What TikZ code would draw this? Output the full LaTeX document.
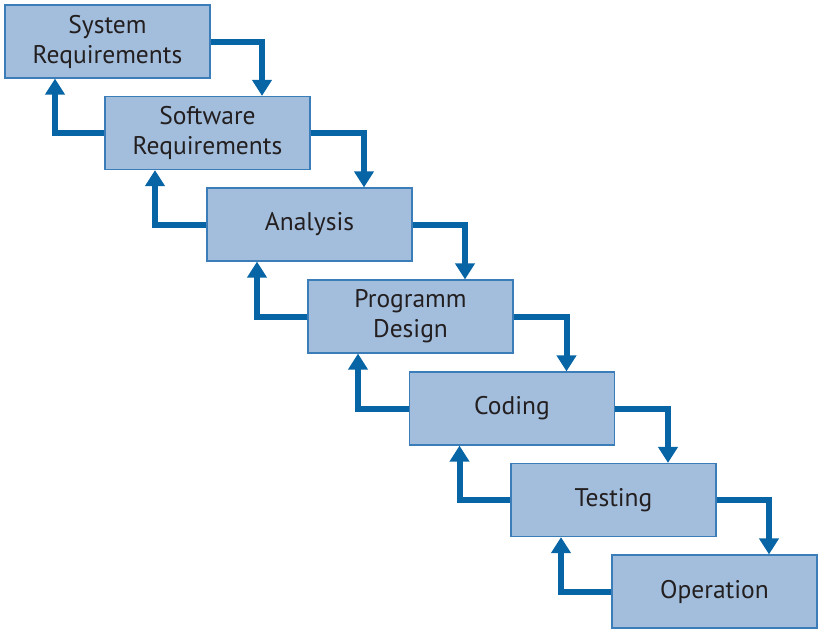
\documentclass[tikz,border=0pt]{standalone}
\usepackage{fontspec}
\setmainfont{PT Sans}
\usetikzlibrary{arrows.meta,calc}
\definecolor{boxfill}{HTML}{A3BEDC}
\definecolor{boxline}{HTML}{3A7DB8}
\definecolor{flowblue}{HTML}{0765A5}
\definecolor{inktext}{HTML}{231F20}
\tikzset{
  phase/.style={draw=boxline, line width=1.2pt, fill=boxfill, text=inktext,
    minimum width=205pt, minimum height=73pt, inner sep=0pt, align=center,
    font=\fontsize{25.5}{30}\selectfont},
  flow/.style={draw=flowblue, line width=6pt,
    -{Triangle[width=19pt,length=16pt]}}
}
\begin{document}
\begin{tikzpicture}[x=1pt,y=-1pt]
  \useasboundingbox (0,0) rectangle (821,635);
  \draw
    (107.5,41.5) node[phase] (sysreq){System\\Requirements}
    (207.5,133) node[phase] (swreq){Software\\Requirements}
    (309.5,224.5) node[phase] (analysis){Analysis}
    (410.5,316.5) node[phase] (design){Programm\\Design}
    (512,408.5) node[phase] (coding){Coding}
    (613.5,500) node[phase] (testing){Testing}
    (714.5,591.5) node[phase] (operation){Operation};
  \begin{scope}[flow]
    % going down
    \draw (sysreq.east) -| ($(swreq.north)+(54.5,0)$);
    \draw (swreq.east) -| ($(analysis.north)+(54.5,0)$);
    \draw (analysis.east) -| ($(design.north)+(54.5,0)$);
    \draw (design.east) -| ($(coding.north)+(54.5,0)$);
    \draw (coding.east) -| ($(testing.north)+(54.5,0)$);
    \draw (testing.east) -| ($(operation.north)+(54.5,0)$);
    % going back up
    \draw (swreq.west) -| ($(sysreq.south)+(-52.5,0)$);
    \draw (analysis.west) -| ($(swreq.south)+(-52.5,0)$);
    \draw (design.west) -| ($(analysis.south)+(-52.5,0)$);
    \draw (coding.west) -| ($(design.south)+(-52.5,0)$);
    \draw (testing.west) -| ($(coding.south)+(-52.5,0)$);
    \draw (operation.west) -| ($(testing.south)+(-52.5,0)$);
  \end{scope}
\end{tikzpicture}
\end{document}
